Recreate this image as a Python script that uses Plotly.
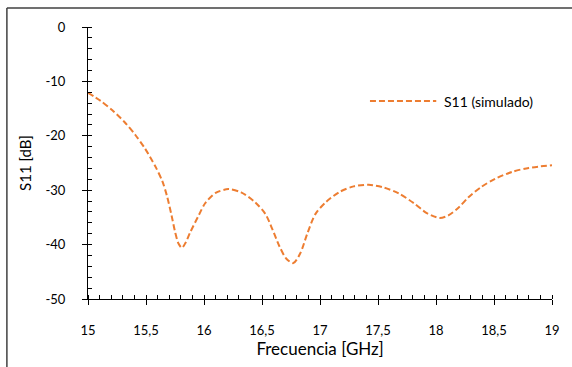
import plotly.graph_objects as go

freq = [15.0, 15.11, 15.21, 15.32, 15.41, 15.49, 15.58, 15.64, 15.68, 15.72, 15.75, 15.78, 15.81, 15.84,
        15.88, 15.955, 16.01, 16.10, 16.21, 16.32, 16.44, 16.53, 16.59, 16.65, 16.71, 16.77,
        16.83, 16.89, 16.96, 17.05, 17.17, 17.29, 17.42, 17.55, 17.68, 17.81, 17.92,
        18.03, 18.11, 18.20, 18.28, 18.39, 18.51, 18.66, 18.80, 19.0]
s11 = [-12.1, -13.6, -15.3, -17.6, -19.9, -22.3, -25.6, -28.3, -31.0, -34.6, -37.6, -39.8, -40.6, -39.7,
       -37.8, -34.6, -32.4, -30.5, -29.8, -30.4, -32.2, -34.4, -37.2, -40.3, -42.6, -43.4,
       -41.6, -38.0, -34.4, -32.2, -30.3, -29.3, -29.0, -29.5, -30.6, -32.4, -34.2,
       -35.1, -34.6, -33.1, -31.3, -29.4, -27.9, -26.6, -25.9, -25.4]

x_tickvals = [15, 15.5, 16, 16.5, 17, 17.5, 18, 18.5, 19]
x_ticktext = ["15", "15,5", "16", "16,5", "17", "17,5", "18", "18,5", "19"]
y_tickvals = [-50, -40, -30, -20, -10, 0]
y_ticktext = ["-50", "-40", "-30", "-20", "-10", "0"]
series_name = "S11 (simulado)"

ORANGE = "#ED7D31"
FONT = "Lato"

fig = go.Figure()
fig.add_trace(go.Scatter(x=freq, y=s11, mode="lines", name=series_name,
                         line=dict(color=ORANGE, width=2, dash="6px,3px", shape="spline", smoothing=0.8),
                         showlegend=False))

common_tick = dict(tickcolor="black", tickwidth=1, linecolor="black", linewidth=1, showline=True,
                   showgrid=False, zeroline=False)

fig.update_layout(
    width=572, height=367,
    margin=dict(l=88, r=15, t=27, b=68),
    paper_bgcolor="white", plot_bgcolor="white",
    font=dict(family=FONT, size=13, color="black"),
    xaxis=dict(range=[15, 19], tickvals=x_tickvals, ticktext=x_ticktext,
               ticks="outside", ticklen=5, ticklabelstandoff=14,
               minor=dict(ticks="inside", dtick=0.1, tick0=15, ticklen=4, tickcolor="black", showgrid=False),
               title=dict(text="Frecuencia [GHz]", font=dict(size=17), standoff=5),
               **common_tick),
    yaxis=dict(range=[-50, 0], tickvals=y_tickvals, ticktext=y_ticktext,
               ticks="outside", ticklen=5, ticklabelstandoff=14,
               minor=dict(ticks="inside", dtick=2, tick0=0, ticklen=4, tickcolor="black", showgrid=False),
               title=dict(text="S11 [dB]", font=dict(size=15), standoff=10),
               **common_tick),
    xaxis2=dict(range=[15, 19], overlaying="x", anchor="y", tickvals=x_tickvals, showticklabels=False,
                ticks="inside", ticklen=5, tickcolor="black", showgrid=False, zeroline=False, showline=False),
    yaxis2=dict(range=[-50, 0], overlaying="y", anchor="x", side="left", tickvals=y_tickvals,
                showticklabels=False, ticks="inside", ticklen=5, tickcolor="black",
                showgrid=False, zeroline=False, showline=False),
    showlegend=False,
)

# outer chart frame (left and top edges visible)
fig.add_shape(type="line", xref="paper", yref="paper", x0=-0.1748, x1=-0.1748, y0=-0.5, y1=1.0699,
              line=dict(color="#404040", width=1.5))
fig.add_shape(type="line", xref="paper", yref="paper", x0=-0.1748, x1=1.2, y0=1.0699, y1=1.0699,
              line=dict(color="#404040", width=1.5))

# legend (sample line + label)
fig.add_shape(type="line", xref="paper", yref="paper", x0=(373 - 88) / 469, x1=(440 - 88) / 469,
              y0=(299 - 101) / 272, y1=(299 - 101) / 272,
              line=dict(color=ORANGE, width=2, dash="6px,3px"))
fig.add_annotation(xref="paper", yref="paper", x=(446 - 88) / 469, y=(299 - 101) / 272,
                   text=series_name, showarrow=False, xanchor="left", yanchor="middle",
                   font=dict(size=14, family=FONT, color="black"))

fig.write_html("out.html")
